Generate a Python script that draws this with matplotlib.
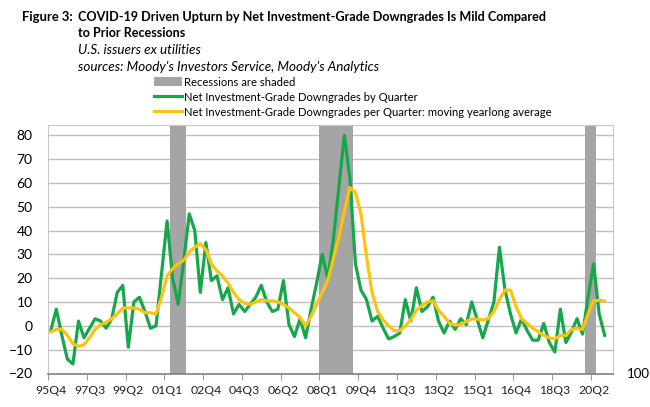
import matplotlib
matplotlib.use('Agg')
import matplotlib.pyplot as plt
from matplotlib.patches import Patch
from matplotlib.lines import Line2D

plt.rcParams['font.family'] = ['Lato', 'DejaVu Sans']

# quarters on the category axis, 95Q4 .. 21Q1
quarters = []
year, q = 1995, 4
for _ in range(102):
    quarters.append('%02dQ%d' % (year % 100, q))
    q += 1
    if q > 4:
        q = 1
        year += 1

tick_labels = ['95Q4', '97Q3', '99Q2', '01Q1', '02Q4', '04Q3', '06Q2', '08Q1',
               '09Q4', '11Q3', '13Q2', '15Q1', '16Q4', '18Q3', '20Q2']

recessions = [('01Q2', '01Q4'), ('08Q1', '09Q2'), ('20Q1', '20Q2')]

# net IG downgrades by quarter, 95Q4 .. 20Q4
downgrades = [-2, 7, -4, -14, -16, 2, -5, -1, 3, 2,
              -1, 3, 14, 17, -9, 10, 12, 6, -1, 0,
              22, 44, 20, 9, 27, 47, 40, 14, 35, 19,
              21, 11, 16, 5, 9, 6, 9, 12, 17, 10,
              6, 7, 19, 0.5, -4.5, 3, -5, 7, 18, 30,
              20, 36, 58, 80, 62, 26, 15, 11, 2, 4,
              -1, -5.5, -4.5, -3, 11, 2, 16, 6, 8, 12,
              2, -3, 2, -1.5, 3, 0.5, 10, 2.5, -5, 2.5,
              10, 33, 15, 5, -3, 3, -2, -6, -6, 1,
              -7, -11, 7, -7, -2.5, 3, -3.5, 12, 26, 5,
              -4]

# moving yearlong average
moving_avg = [-2.5, -1.5, -1.5, -4, -7.5, -8.5, -8, -5, -1.5, 0.5,
              1.5, 3, 5, 7.5, 7.5, 7.5, 7, 5.5, 5.5, 5,
              12, 21, 24, 26, 27.5, 31, 33, 34.5, 32, 26,
              23, 21, 18, 14, 11, 9.5, 9, 10, 11, 10.5,
              10.5, 10, 9, 7.5, 5.5, 3.5, 0, 4, 9, 14,
              19, 28, 37, 48, 58, 56, 47, 29, 14, 6,
              2.5, 0, -2, -2, 0, 2.5, 6.5, 8.5, 10, 10.5,
              6.5, 4, 1, 0.3, 0.5, 1.8, 3, 2.8, 2.5, 3,
              6, 11, 15, 15, 8, 3, 1, -1, -2.5, -4,
              -5, -5.5, -4, -4, -1.5, -1, -1.5, 5, 10.5, 10.7,
              10.4]

green = '#17a74b'
yellow = '#ffc20e'
shade = '#a5a5a5'

fig = plt.figure(figsize=(6.5, 4.07), dpi=100)
ax = fig.add_axes([48 / 650, 33.5 / 407, 565 / 650, 249 / 407])

for start, end in recessions:
    ax.axvspan(quarters.index(start) - 0.5, quarters.index(end) + 0.5,
               color=shade, lw=0, zorder=1)

for v in range(-10, 90, 10):
    ax.axhline(v, color='#c0c0c0', lw=1, zorder=0.5)

x = list(range(len(downgrades)))
ax.plot(x, downgrades, color=green, lw=2.3, zorder=3)
ax.plot(x, moving_avg, color=yellow, lw=2.3, zorder=4)

ax.set_xlim(-0.5, len(quarters) - 0.5)
ax.set_ylim(-20, 84.5)
ax.set_yticks(range(-20, 90, 10))
ax.tick_params(axis='y', length=0, labelsize=10, pad=11)

ax.set_xticks([quarters.index(t) for t in tick_labels])
ax.set_xticklabels(tick_labels)
ax.tick_params(axis='x', length=0, labelsize=8.8, pad=8, labelcolor='#222222')
ax.set_xticks([i - 0.5 for i in range(0, len(quarters), 7)], minor=True)
ax.tick_params(axis='x', which='minor', length=4, direction='out', color='#808080')

for side in ['top', 'right', 'left']:
    ax.spines[side].set_color('#c8c8c8')
ax.spines['bottom'].set_color('#808080')
ax.spines['bottom'].set_linewidth(1.2)

fig.text(627 / 650, 33.5 / 407, '100', fontsize=9.5, va='center', ha='left')

fig_label = fig.text(22 / 650, 1 - 17 / 407, 'Figure 3:', fontsize=10.5, fontweight='bold', va='center')
title1 = fig.text(78 / 650, 1 - 17 / 407,
                  'COVID-19 Driven Upturn by Net Investment-Grade Downgrades Is Mild Compared',
                  fontsize=10.5, fontweight='bold', va='center')
title2 = fig.text(78 / 650, 1 - 33 / 407, 'to Prior Recessions', fontsize=10.5,
                  fontweight='bold', va='center')
sub1 = fig.text(78 / 650, 1 - 50 / 407, 'U.S. issuers ex utilities', fontsize=9.5,
                style='italic', va='center')
sub2 = fig.text(78 / 650, 1 - 67 / 407, "sources: Moody's Investors Service, Moody's Analytics",
                fontsize=9.5, style='italic', va='center')

handles = [Patch(facecolor=shade, edgecolor='none'),
           Line2D([], [], color=green, lw=2.3),
           Line2D([], [], color=yellow, lw=2.3)]
labels = ['Recessions are shaded',
          'Net Investment-Grade Downgrades by Quarter',
          'Net Investment-Grade Downgrades per Quarter: moving yearlong average']
leg = fig.legend(handles, labels, loc='upper left', bbox_to_anchor=(154 / 650, 1 - 77 / 407),
                 frameon=False, fontsize=9, handlelength=2.2, handletextpad=0.2,
                 labelspacing=0.3, borderaxespad=0, borderpad=0)

# shrink the texts to the widths they take in the reference
renderer = fig.canvas.get_renderer()


def fit(t, width_px):
    w = t.get_window_extent(renderer).width
    t.set_fontsize(t.get_fontsize() * width_px / w)


fit(title1, 467)
fit(fig_label, 51)
title2.set_fontsize(title1.get_fontsize())
fit(sub2, 302)
sub1.set_fontsize(sub2.get_fontsize())
fit(leg.get_texts()[2], 369)
for t in leg.get_texts()[:2]:
    t.set_fontsize(leg.get_texts()[2].get_fontsize())

fig.savefig('out.png', dpi=100)
